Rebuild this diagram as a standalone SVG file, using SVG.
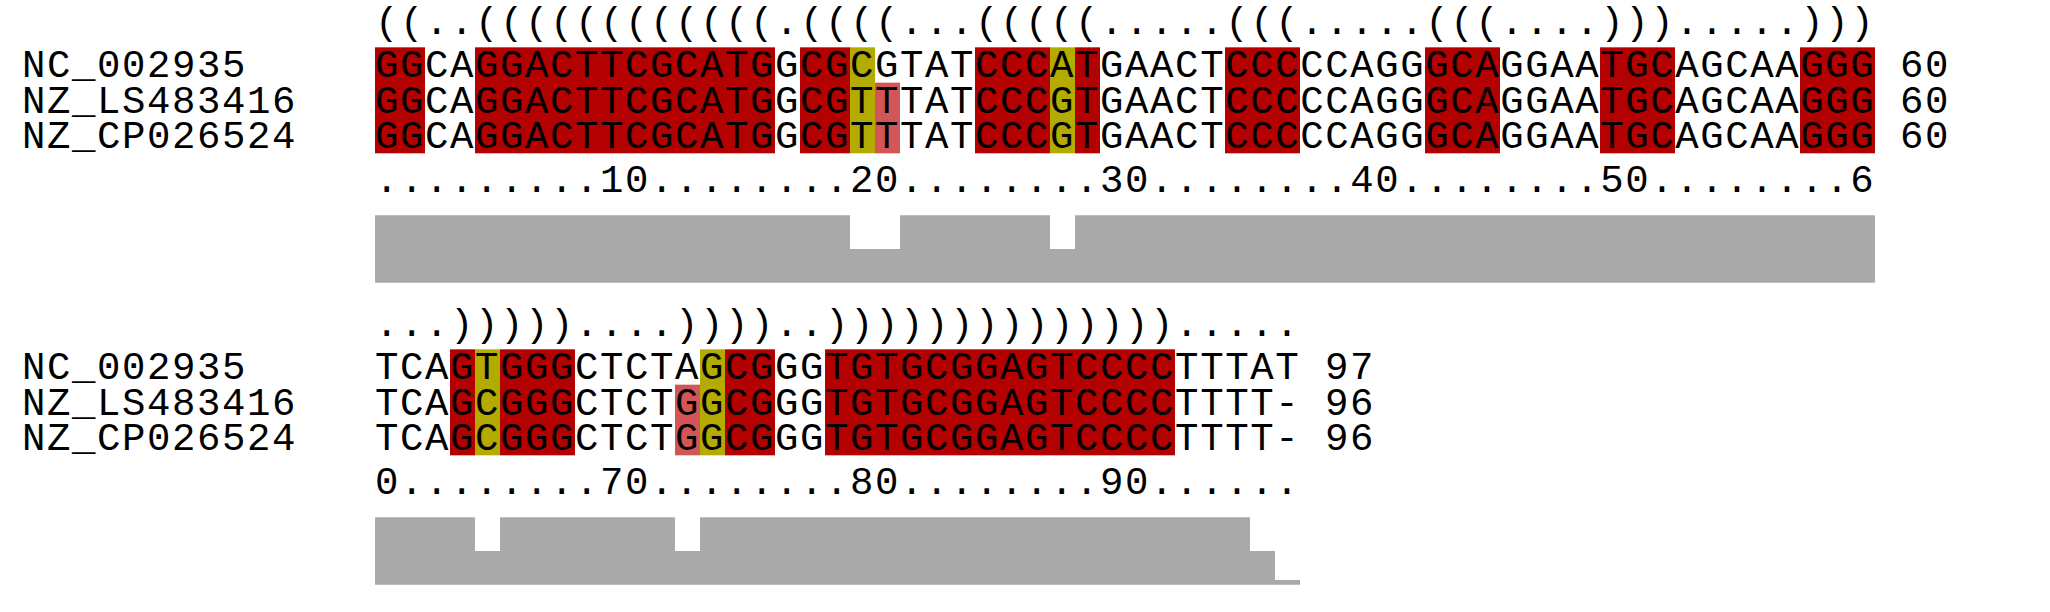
<svg xmlns="http://www.w3.org/2000/svg" width="2050" height="612" viewBox="0 0 2050 612">
<style>
text{font-family:"Liberation Mono","DejaVu Sans Mono",monospace;font-size:39px;letter-spacing:1.6px;fill:#000;white-space:pre}
.r{fill:#b30000}
.o{fill:#b3ab00}
.l{fill:#d35656}
.bar{fill:#a9a9a9}
</style>
<rect width="2050" height="612" fill="#fff"/>
<g id="block1">
  <g id="block1-highlights">
    <g transform="translate(0,47.33)">
      <rect class="r" x="375" y="0" width="50" height="106"/>
      <rect class="r" x="475" y="0" width="300" height="106"/>
      <rect class="r" x="800" y="0" width="50" height="106"/>
      <rect class="o" x="850" y="0" width="25" height="106"/>
      <rect class="l" x="875" y="35.33" width="25" height="70.67"/>
      <rect class="r" x="975" y="0" width="75" height="106"/>
      <rect class="o" x="1050" y="0" width="25" height="106"/>
      <rect class="r" x="1075" y="0" width="25" height="106"/>
      <rect class="r" x="1225" y="0" width="75" height="106"/>
      <rect class="r" x="1425" y="0" width="75" height="106"/>
      <rect class="r" x="1600" y="0" width="75" height="106"/>
      <rect class="r" x="1800" y="0" width="75" height="106"/>
    </g>
  </g>
  <text id="block1-structure" x="375" y="33.5">((..((((((((((((.((((...(((((.....(((.....(((....))).....)))</text>
  <g id="row1-NC_002935">
    <text x="22" y="77.3">NC_002935</text>
    <text x="375" y="77.3">GGCAGGACTTCGCATGGCGCGTATCCCATGAACTCCCCCAGGGCAGGAATGCAGCAAGGG</text>
    <text x="1900" y="77.3">60</text>
  </g>
  <g id="row1-NZ_LS483416">
    <text x="22" y="112.63">NZ_LS483416</text>
    <text x="375" y="112.63">GGCAGGACTTCGCATGGCGTTTATCCCGTGAACTCCCCCAGGGCAGGAATGCAGCAAGGG</text>
    <text x="1900" y="112.63">60</text>
  </g>
  <g id="row1-NZ_CP026524">
    <text x="22" y="147.96">NZ_CP026524</text>
    <text x="375" y="147.96">GGCAGGACTTCGCATGGCGTTTATCCCGTGAACTCCCCCAGGGCAGGAATGCAGCAAGGG</text>
    <text x="1900" y="147.96">60</text>
  </g>
  <text id="block1-ruler" x="375" y="191.5">.........10........20........30........40........50........6</text>
  <path id="block1-conservation" class="bar" d="M375,282.7 V215.3 H850 V249 H900 V215.3 H1050 V249 H1075 V215.3 H1875 V282.7 Z"/>
</g>
<g id="block2">
  <g id="block2-highlights">
    <g transform="translate(0,349.33)">
      <rect class="r" x="450" y="0" width="25" height="106"/>
      <rect class="o" x="475" y="0" width="25" height="106"/>
      <rect class="r" x="500" y="0" width="75" height="106"/>
      <rect class="l" x="675" y="35.33" width="25" height="70.67"/>
      <rect class="o" x="700" y="0" width="25" height="106"/>
      <rect class="r" x="725" y="0" width="50" height="106"/>
      <rect class="r" x="825" y="0" width="350" height="106"/>
    </g>
  </g>
  <text id="block2-structure" x="375" y="335.5">...)))))....))))..)))))))))))))).....</text>
  <g id="row2-NC_002935">
    <text x="22" y="379.3">NC_002935</text>
    <text x="375" y="379.3">TCAGTGGGCTCTAGCGGGTGTGCGGAGTCCCCTTTAT</text>
    <text x="1325" y="379.3">97</text>
  </g>
  <g id="row2-NZ_LS483416">
    <text x="22" y="414.63">NZ_LS483416</text>
    <text x="375" y="414.63">TCAGCGGGCTCTGGCGGGTGTGCGGAGTCCCCTTTT-</text>
    <text x="1325" y="414.63">96</text>
  </g>
  <g id="row2-NZ_CP026524">
    <text x="22" y="449.96">NZ_CP026524</text>
    <text x="375" y="449.96">TCAGCGGGCTCTGGCGGGTGTGCGGAGTCCCCTTTT-</text>
    <text x="1325" y="449.96">96</text>
  </g>
  <text id="block2-ruler" x="375" y="493.5">0........70........80........90......</text>
  <path id="block2-conservation" class="bar" d="M375,584.7 V517.3 H475 V551 H500 V517.3 H675 V551 H700 V517.3 H1250 V551 H1275 V580 H1300 V584.7 Z"/>
</g>
</svg>
